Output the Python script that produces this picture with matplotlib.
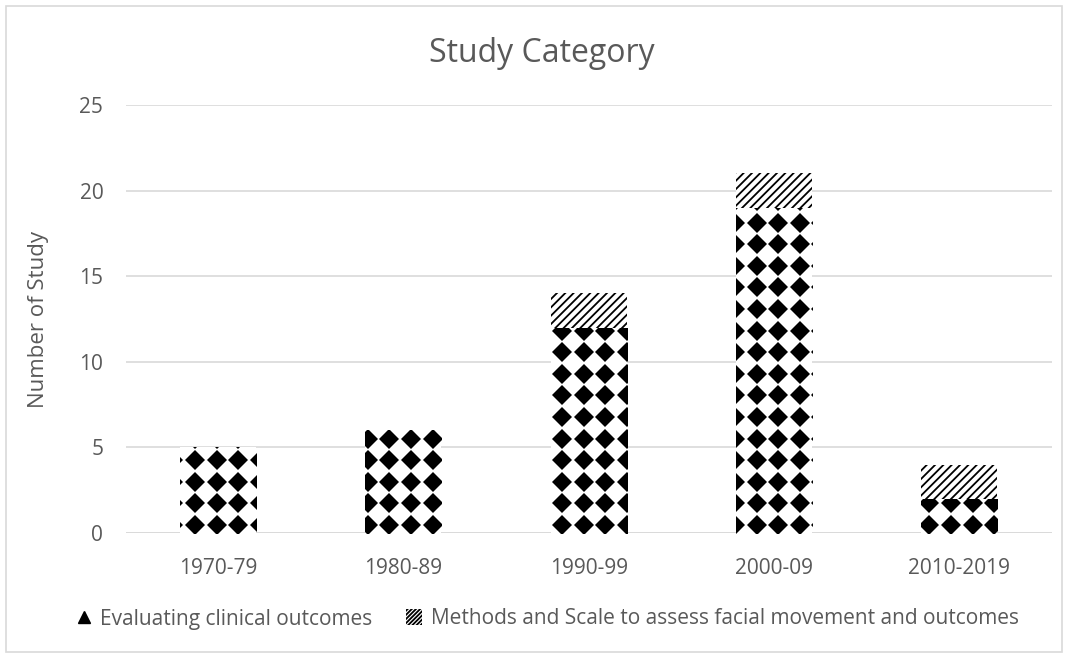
import numpy as np
import matplotlib
matplotlib.use("Agg")
import matplotlib.pyplot as plt
from matplotlib.patches import Patch, Rectangle
from matplotlib.lines import Line2D

# Study counts per decade
decades = ["1970-79", "1980-89", "1990-99", "2000-09", "2010-2019"]
clinical_outcomes = [5, 6, 12, 19, 2]
assessment_methods = [0, 0, 2, 2, 2]
series_names = ["Evaluating clinical outcomes",
                "Methods and Scale to assess facial movement and outcomes"]
y_ticks = [0, 5, 10, 15, 20, 25]

TEXT = "#595959"
GRID = "#d9d9d9"
plt.rcParams["font.family"] = ["Open Sans", "DejaVu Sans"]
plt.rcParams["hatch.linewidth"] = 1.3

W, H = 1068, 656
fig = plt.figure(figsize=(W / 100, H / 100), dpi=100)
fig.patches.append(Rectangle((6 / W, 4 / H), 1 - 12 / W, 1 - 10 / H,
                             transform=fig.transFigure, fill=False,
                             edgecolor=GRID, linewidth=1.2))

ax = fig.add_axes([125.5 / W, 123 / H, (1052 - 125.5) / W, (533 - 105) / H])
ax.set_xlim(-0.5, len(decades) - 0.5)
ax.set_ylim(0, 25)
ax.set_autoscale_on(False)

x = np.arange(len(decades))
bw = 0.41
base_bars = ax.bar(x, clinical_outcomes, bw, color="white", linewidth=0, zorder=2)
top_bars = ax.bar(x, assessment_methods, bw, bottom=clinical_outcomes,
                  facecolor="white", edgecolor="black", hatch="////",
                  linewidth=0, zorder=2)

# Diamond fill for the clinical-outcomes segments, tiled on a fixed pixel grid
period = 21.6
x_anchor, y_anchor = 195.0, H - 525.0
inv = ax.transData.inverted()
for rect in base_bars:
    bb = rect.get_window_extent()
    gx = np.arange(x_anchor - period * np.ceil((x_anchor - bb.x0) / period + 1),
                   bb.x1 + period, period)
    gy = np.arange(y_anchor - period * np.ceil((y_anchor - bb.y0) / period + 1),
                   bb.y1 + period, period)
    GX, GY = np.meshgrid(gx, gy)
    pts = inv.transform(np.column_stack([GX.ravel(), GY.ravel()]))
    ln, = ax.plot(pts[:, 0], pts[:, 1], linestyle="none", marker="D",
                  markersize=10.3, markerfacecolor="black", markeredgewidth=0,
                  zorder=3)
    ln.set_clip_path(rect)

ax.set_yticks(y_ticks)
ax.set_xticks(x)
ax.set_xticklabels(decades)
ax.grid(axis="y", color=GRID, linewidth=1.2, zorder=0)
ax.set_axisbelow(True)
for s in ax.spines.values():
    s.set_visible(False)
ax.axhline(0, color=GRID, linewidth=1.2, zorder=1)
ax.tick_params(length=0, labelsize=15, labelcolor=TEXT)
ax.tick_params(axis="y", pad=16)
ax.tick_params(axis="x", pad=18)

ax.set_ylabel("Number of Study", fontsize=16, color=TEXT, labelpad=22)
fig.text(542 / W, 1 - 53 / H, "Study Category", ha="center", va="center",
         fontsize=23, color=TEXT)

handles = [Line2D([], [], linestyle="none", marker="^", markersize=8,
                  color="black"),
           Patch(facecolor="white", edgecolor="black", hatch="////////",
                 linewidth=0)]
fig.legend(handles, series_names, loc="center", bbox_to_anchor=(547 / W, 1 - 619 / H),
           ncol=2, frameon=False, fontsize=15, labelcolor=TEXT,
           handlelength=0.8, handleheight=0.8, handletextpad=0.4,
           columnspacing=1.6)

fig.savefig("out.png", dpi=100, facecolor="white")
